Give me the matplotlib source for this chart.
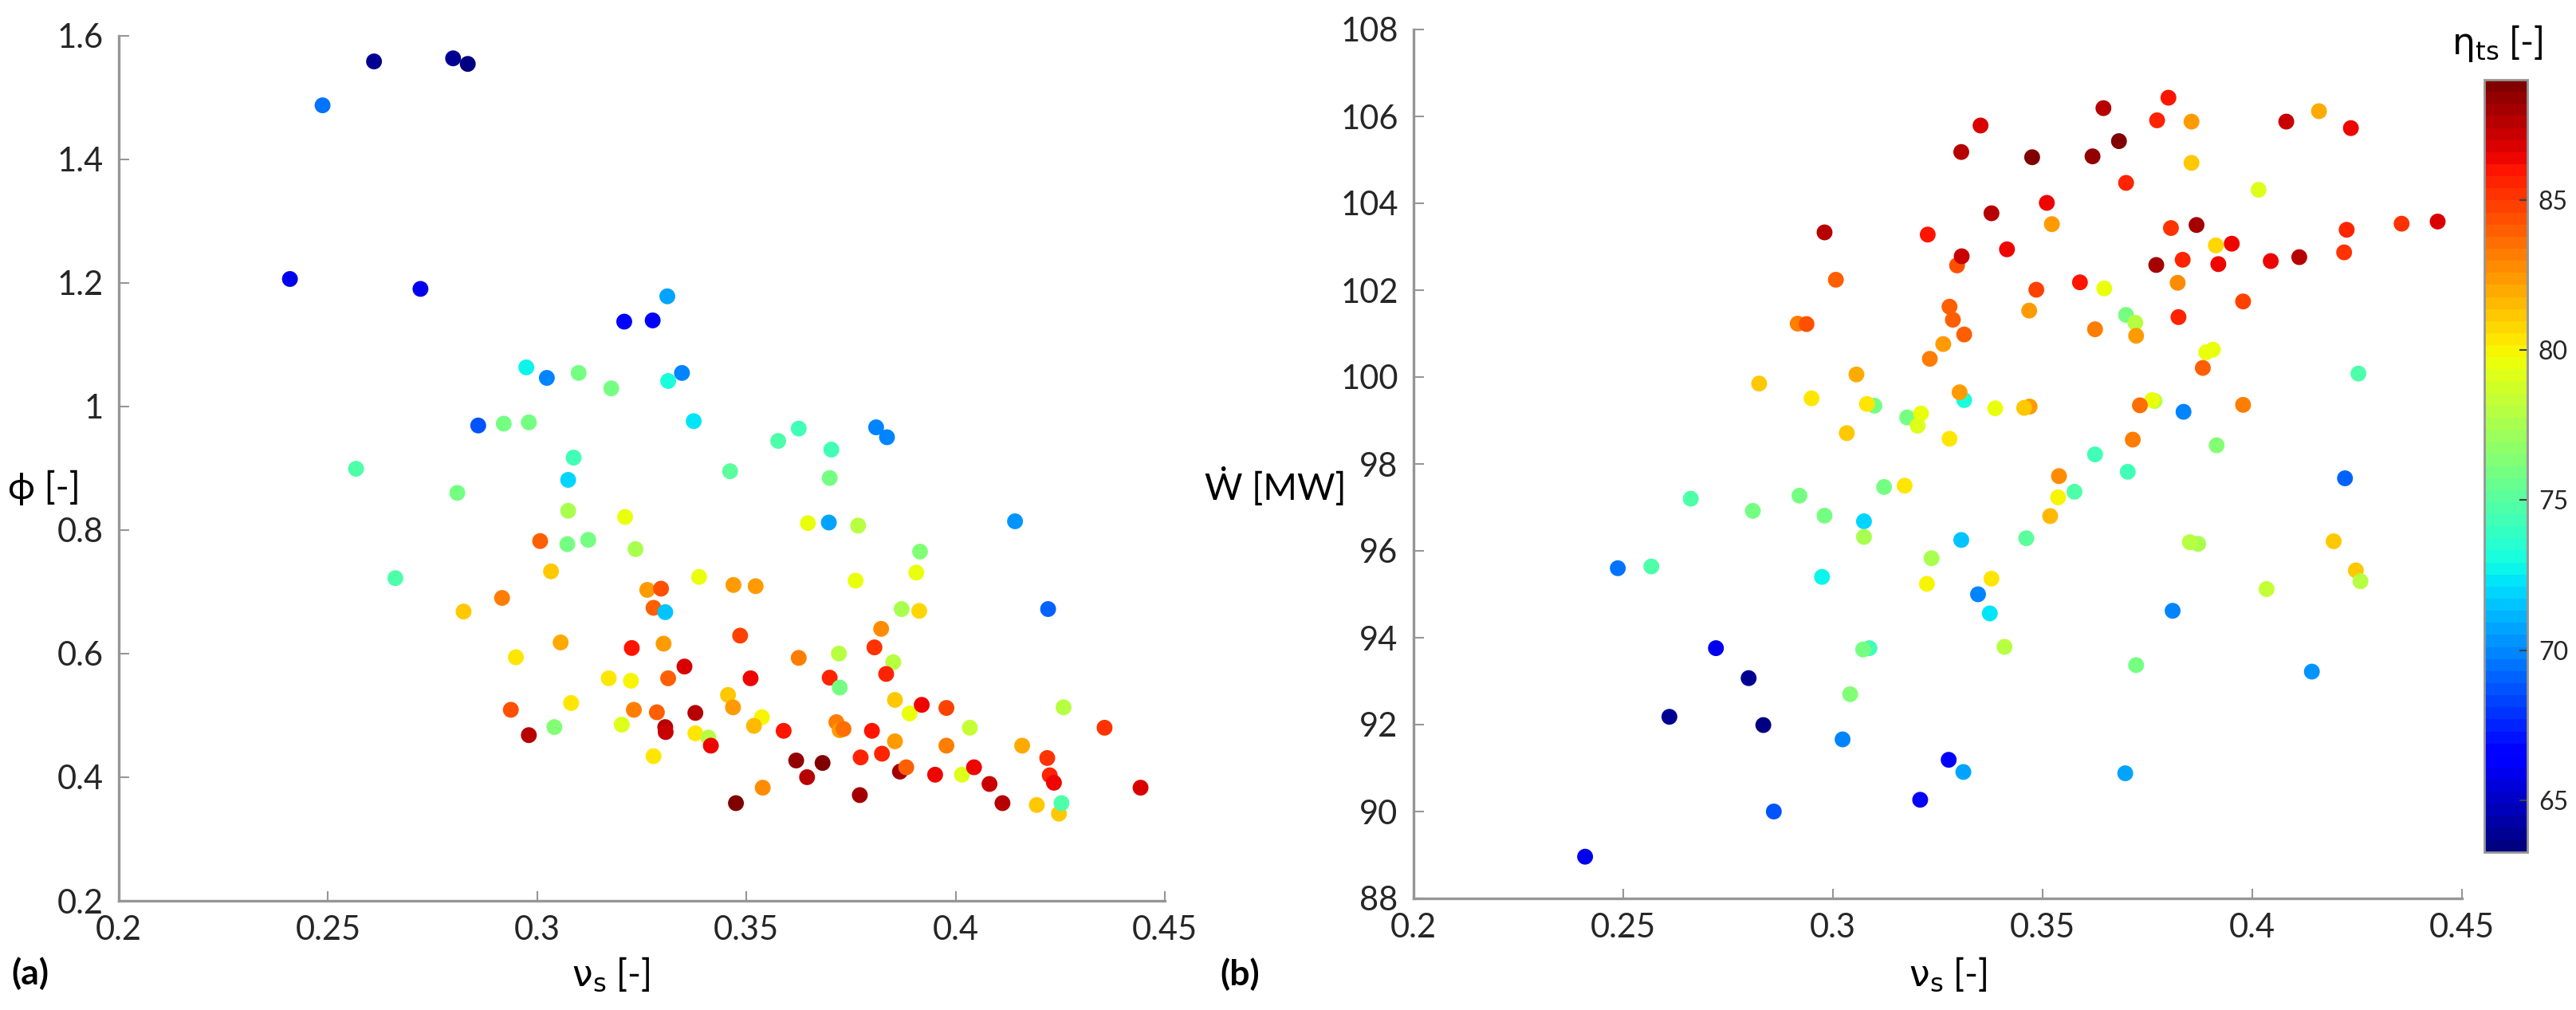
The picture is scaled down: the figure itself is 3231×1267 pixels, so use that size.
import matplotlib
matplotlib.use("Agg")
import matplotlib.pyplot as plt
import numpy as np

plt.rcParams['font.family'] = ['Lato', 'DejaVu Sans']
plt.rcParams['mathtext.fontset'] = 'dejavusans'

# ---- data ----
nu = [0.2409, 0.2487, 0.2610, 0.2799, 0.2834, 0.2721, 0.3208, 0.3276, 0.3311, 0.2974,
      0.3023, 0.3099, 0.3177, 0.3313, 0.3346, 0.2859, 0.2920, 0.2980, 0.3374, 0.2567,
      0.3087, 0.3074, 0.2809, 0.3461, 0.3576, 0.3625, 0.3703, 0.3699, 0.3810, 0.3836,
      0.3074, 0.3210, 0.3007, 0.3072, 0.3122, 0.3235, 0.2661, 0.3647, 0.3697, 0.3767,
      0.3915, 0.3906, 0.4142, 0.3033, 0.3387, 0.3469, 0.3522, 0.3263, 0.3296, 0.3761,
      0.2824, 0.2916, 0.3278, 0.3306, 0.3871, 0.3913, 0.4221, 0.2949, 0.3056, 0.3226,
      0.3302, 0.3485, 0.3822, 0.3806, 0.3625, 0.3721, 0.3851, 0.3352, 0.3171, 0.3224,
      0.3313, 0.3510, 0.3699, 0.3834, 0.3723, 0.2937, 0.3081, 0.3231, 0.3286, 0.3378,
      0.2980, 0.3041, 0.3202, 0.3306, 0.3307, 0.3378, 0.3409, 0.3415, 0.3456, 0.3468,
      0.3537, 0.3518, 0.3589, 0.3278, 0.3539, 0.3475, 0.3619, 0.3682, 0.3645, 0.3715,
      0.3723, 0.3732, 0.3800, 0.3773, 0.3824, 0.3771, 0.3855, 0.3890, 0.3919, 0.3978,
      0.3855, 0.3867, 0.3882, 0.3951, 0.3978, 0.4015, 0.4034, 0.4044, 0.4081, 0.4112,
      0.4159, 0.4194, 0.4219, 0.4225, 0.4235, 0.4247, 0.4253, 0.4258, 0.4356, 0.4442]

phi = [1.206, 1.487, 1.558, 1.563, 1.554, 1.190, 1.137, 1.139, 1.178, 1.063,
       1.046, 1.054, 1.029, 1.041, 1.054, 0.969, 0.972, 0.974, 0.976, 0.899,
       0.917, 0.881, 0.860, 0.895, 0.944, 0.964, 0.930, 0.884, 0.966, 0.950,
       0.831, 0.821, 0.782, 0.777, 0.784, 0.769, 0.722, 0.811, 0.812, 0.807,
       0.765, 0.731, 0.814, 0.733, 0.724, 0.711, 0.709, 0.703, 0.705, 0.718,
       0.668, 0.690, 0.674, 0.667, 0.672, 0.669, 0.672, 0.594, 0.618, 0.609,
       0.616, 0.629, 0.640, 0.610, 0.593, 0.600, 0.586, 0.579, 0.560, 0.556,
       0.560, 0.560, 0.561, 0.567, 0.545, 0.509, 0.520, 0.509, 0.505, 0.504,
       0.468, 0.481, 0.485, 0.481, 0.473, 0.471, 0.464, 0.451, 0.533, 0.513,
       0.497, 0.483, 0.475, 0.434, 0.383, 0.358, 0.427, 0.423, 0.400, 0.489,
       0.476, 0.478, 0.475, 0.432, 0.438, 0.371, 0.525, 0.503, 0.517, 0.512,
       0.458, 0.409, 0.416, 0.404, 0.451, 0.404, 0.480, 0.416, 0.389, 0.358,
       0.451, 0.355, 0.431, 0.403, 0.391, 0.341, 0.358, 0.513, 0.480, 0.383]

W = [88.96, 95.60, 92.18, 93.07, 91.99, 93.76, 90.27, 91.19, 90.91, 95.40,
     91.66, 99.34, 99.07, 99.47, 95.00, 90.00, 97.27, 96.81, 94.56, 95.64,
     93.76, 96.68, 96.92, 96.29, 97.36, 98.22, 97.82, 101.43, 94.62, 99.20,
     96.32, 99.16, 102.24, 93.73, 97.47, 95.83, 97.20, 102.04, 90.88, 99.45,
     98.43, 100.63, 93.22, 98.71, 99.28, 99.32, 103.52, 100.76, 102.57, 99.47,
     99.85, 101.23, 101.62, 96.25, 96.16, 103.03, 97.67, 99.51, 100.06, 103.28,
     99.65, 102.01, 102.17, 103.43, 101.10, 101.25, 96.20, 105.79, 97.50, 95.24,
     100.98, 104.01, 104.47, 102.70, 93.37, 101.22, 99.38, 100.42, 101.32, 103.77,
     103.33, 92.70, 98.88, 105.18, 102.78, 95.36, 93.79, 102.94, 99.29, 101.53,
     97.23, 96.80, 102.18, 98.58, 97.72, 105.06, 105.08, 105.43, 106.19, 98.56,
     100.95, 99.35, 106.43, 105.91, 101.38, 102.58, 104.93, 100.57, 102.60, 101.74,
     105.88, 103.50, 100.21, 103.07, 99.36, 104.31, 95.12, 102.67, 105.88, 102.76,
     106.12, 96.22, 102.87, 103.39, 105.73, 95.55, 100.08, 95.30, 103.53, 103.58]

eta = [65.8, 69.5, 63.8, 63.8, 63.6, 66.0, 66.3, 66.3, 70.8, 72.8,
       69.8, 76.0, 76.0, 73.0, 69.8, 68.8, 76.0, 76.0, 72.5, 74.8,
       74.5, 72.0, 76.0, 75.0, 74.8, 74.5, 74.5, 76.0, 69.8, 70.0,
       77.5, 79.5, 84.0, 76.0, 76.0, 77.5, 74.8, 79.5, 70.8, 78.0,
       76.2, 79.5, 70.5, 81.0, 79.6, 82.3, 82.3, 82.5, 84.3, 79.5,
       81.0, 83.0, 84.0, 71.5, 77.5, 80.8, 69.3, 80.3, 82.0, 86.0,
       82.3, 84.8, 82.8, 85.2, 83.2, 77.8, 77.8, 86.8, 80.5, 79.8,
       84.0, 86.5, 85.5, 85.5, 76.0, 84.3, 80.5, 83.3, 84.0, 87.8,
       87.5, 76.2, 79.0, 87.8, 87.3, 80.5, 77.8, 86.5, 81.3, 82.3,
       80.0, 81.5, 86.0, 80.5, 82.8, 89.0, 88.5, 89.0, 87.5, 83.0,
       82.2, 83.5, 85.8, 85.5, 85.5, 88.0, 81.2, 79.5, 86.3, 84.8,
       82.5, 88.0, 83.8, 86.3, 83.3, 79.0, 78.2, 86.5, 87.0, 87.5,
       82.0, 81.0, 85.3, 85.5, 86.5, 81.2, 74.8, 78.0, 85.0, 86.8]

x_ticks = [0.2, 0.25, 0.3, 0.35, 0.4, 0.45]
x_ticklabels = ['0.2', '0.25', '0.3', '0.35', '0.4', '0.45']
phi_ticks = [0.2, 0.4, 0.6, 0.8, 1.0, 1.2, 1.4, 1.6]
phi_ticklabels = ['0.2', '0.4', '0.6', '0.8', '1', '1.2', '1.4', '1.6']
W_ticks = [88, 90, 92, 94, 96, 98, 100, 102, 104, 106, 108]
cb_ticks = [65, 70, 75, 80, 85]
eta_lim = (63.27, 89.01)

# ---- figure ----
FW, FH = 3231, 1267
fig = plt.figure(figsize=(FW / 100, FH / 100), dpi=100)

def fx(px):
    return px / FW

def fy(py):
    return 1 - py / FH

ax1 = fig.add_axes([fx(149), fy(1130), fx(1461) - fx(149), fy(44.5) - fy(1130)])
ax2 = fig.add_axes([fx(1773), fy(1127), fx(3088) - fx(1773), fy(37) - fy(1127)])
cax = fig.add_axes([fx(3116), fy(1069), fx(3170) - fx(3116), fy(100) - fy(1069)])

cmap = plt.get_cmap('jet', 64)
spine_col = '#969696'
tick_txt = '#262626'

sc = None
for ax, yv in ((ax1, phi), (ax2, W)):
    sc = ax.scatter(nu, yv, c=eta, cmap=cmap, vmin=eta_lim[0], vmax=eta_lim[1],
                    s=205, edgecolors='none', zorder=3)
    ax.set_xlim(0.2, 0.45)
    ax.set_xticks(x_ticks)
    ax.set_xticklabels(x_ticklabels)
    for s in ('top', 'right'):
        ax.spines[s].set_visible(False)
    for s in ('left', 'bottom'):
        ax.spines[s].set_color(spine_col)
        ax.spines[s].set_linewidth(2.4)
    ax.tick_params(direction='in', length=9, width=1.5, color=spine_col,
                   labelsize=30, labelcolor=tick_txt)
    ax.tick_params(axis='x', pad=13)
    ax.tick_params(axis='y', pad=14)

ax1.set_ylim(0.2, 1.6)
ax1.set_yticks(phi_ticks)
ax1.set_yticklabels(phi_ticklabels)
ax2.set_ylim(88, 108)
ax2.set_yticks(W_ticks)

cb = fig.colorbar(sc, cax=cax)
cb.set_ticks(cb_ticks)
cb.outline.set_edgecolor(spine_col)
cb.outline.set_linewidth(2.0)
cax.tick_params(direction='in', length=7, width=1.5, color='#404040',
                labelsize=23, labelcolor=tick_txt, pad=10)

# ---- labels ----
lab_kw = dict(fontsize=33, color='black', ha='center', va='center')
fig.text(fx(55), fy(612), 'ϕ [-]', **lab_kw)
fig.text(fx(1600), fy(610), 'Ẇ [MW]', **lab_kw)
fig.text(fx(766), fy(1222), r'$\mathrm{\nu_s}$ [-]', **lab_kw)
fig.text(fx(2443), fy(1222), r'$\mathrm{\nu_s}$ [-]', **lab_kw)
fig.text(fx(3132), fy(55), r'$\mathrm{\eta_{ts}}$ [-]', **lab_kw)
fig.text(fx(38), fy(1221), '(a)', fontsize=32, fontweight='bold', color='black',
         ha='center', va='center')
fig.text(fx(1555), fy(1222), '(b)', fontsize=32, fontweight='bold', color='black',
         ha='center', va='center')

fig.savefig('out.png', dpi=100, facecolor='white')
